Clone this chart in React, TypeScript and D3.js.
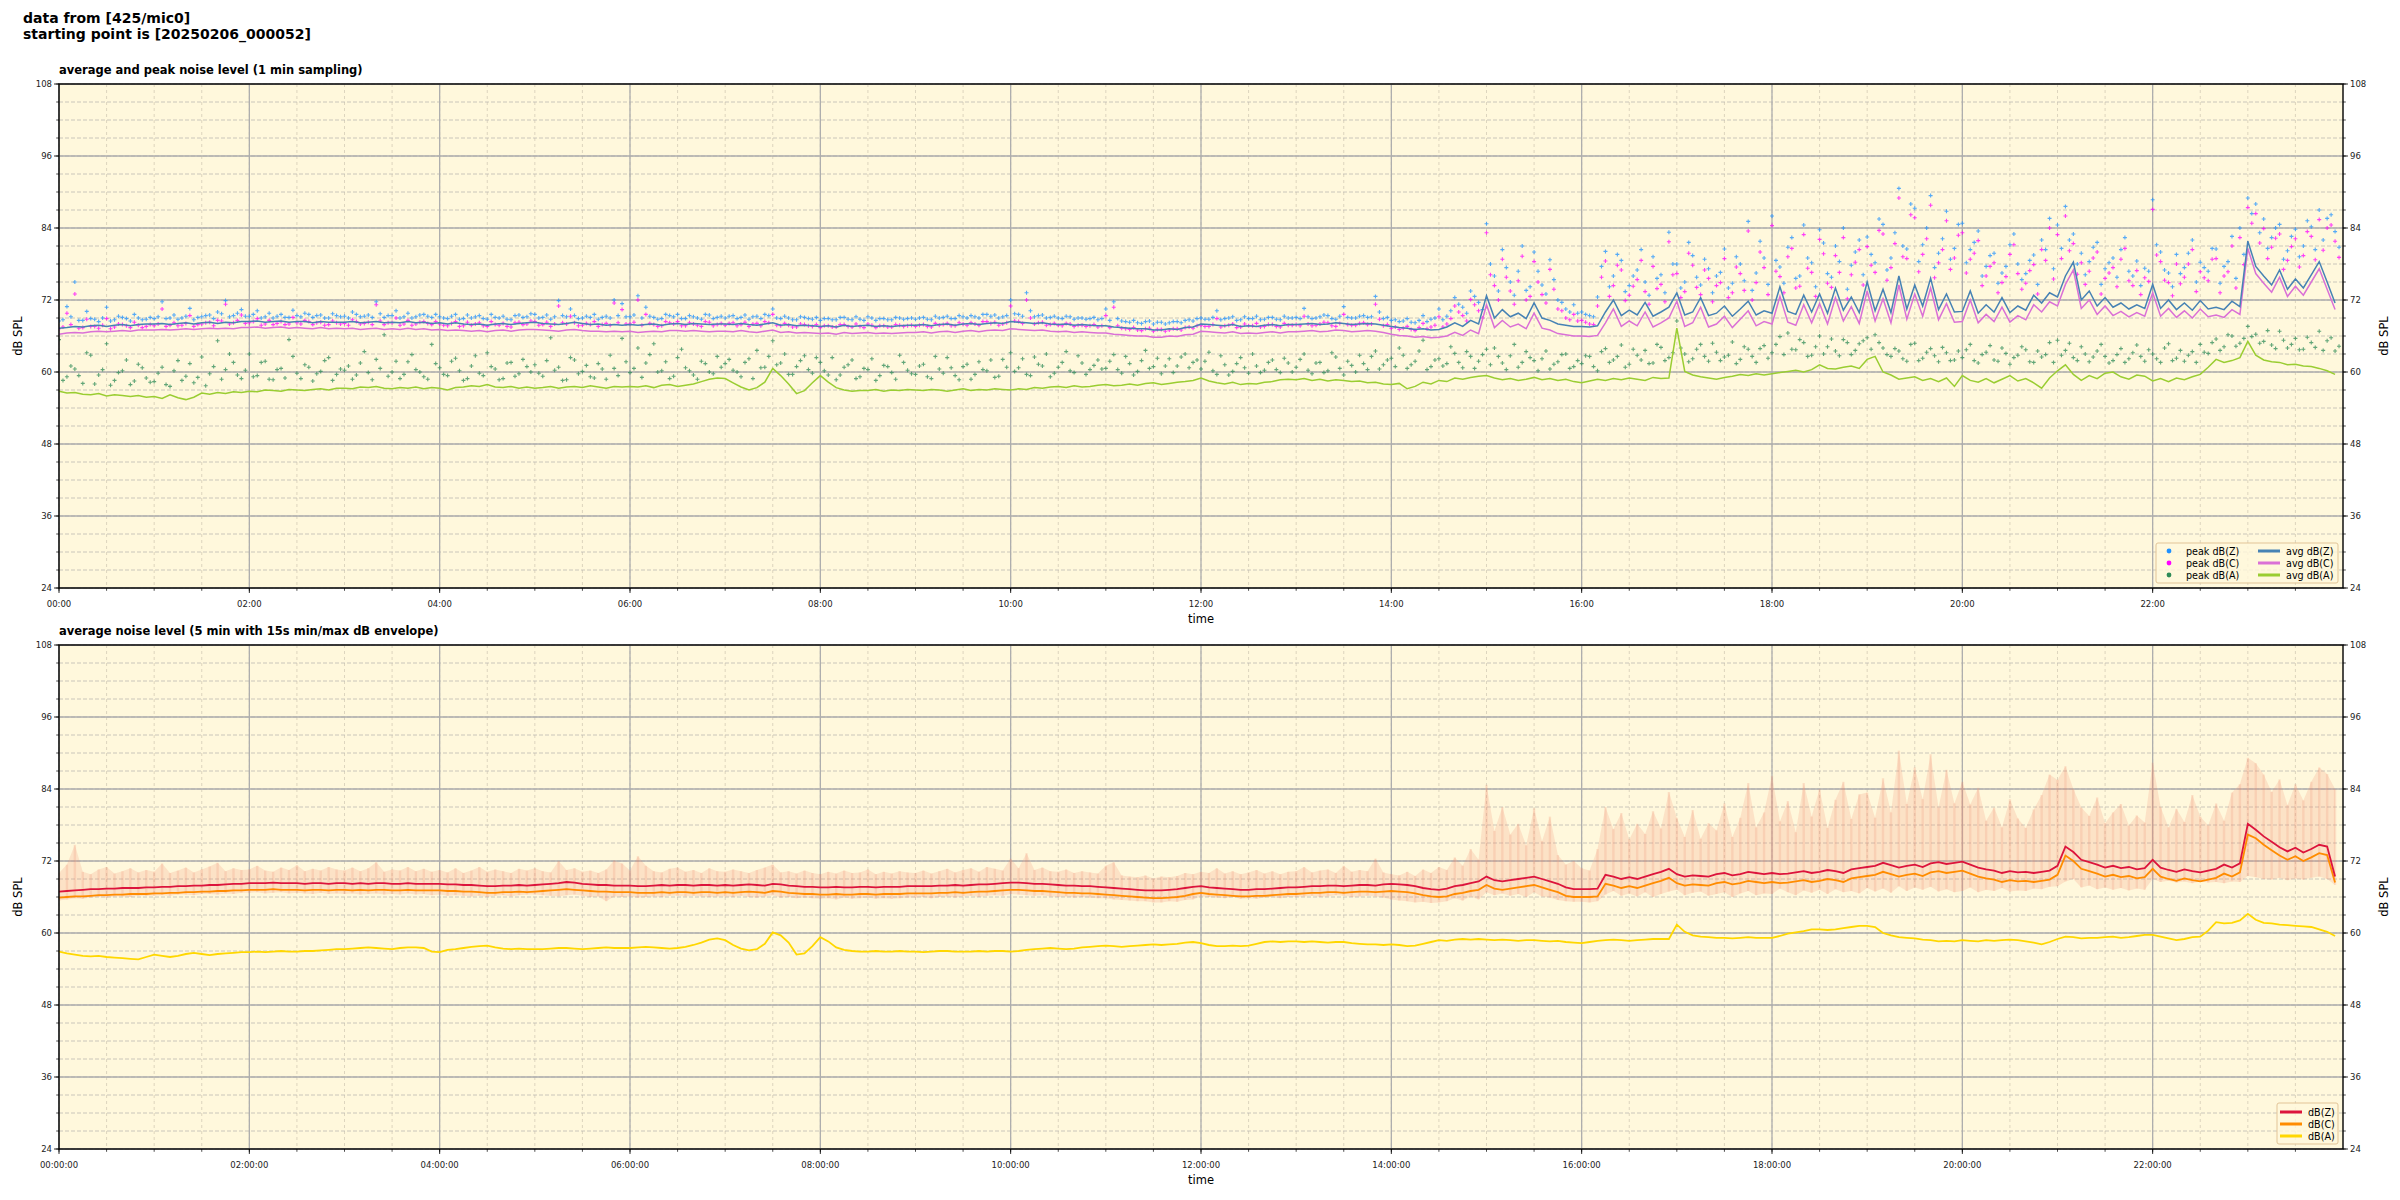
import React from "react";
import * as d3 from "d3";

// ---------- DATA (5-min samples, 00:00 .. 23:55) ----------
const avgZ = [
67.3,67.4,67.6,67.5,67.7,67.8,67.6,67.8,67.9,67.7,67.9,68.0,
68.0,68.1,67.9,68.1,68.2,68.0,68.2,68.3,68.1,68.3,68.2,68.4,
68.4,68.5,68.3,68.4,68.5,68.3,68.4,68.4,68.2,68.4,68.3,68.3,
68.3,68.4,68.2,68.3,68.4,68.2,68.3,68.2,68.4,68.2,68.3,68.1,
68.2,68.0,68.2,68.0,67.9,68.0,67.8,68.0,68.1,67.9,68.1,68.2,
68.3,68.1,68.0,67.9,68.1,68.3,68.1,67.9,68.0,67.8,67.9,67.8,
67.9,67.8,67.9,68.0,67.8,68.0,68.1,67.9,68.1,68.0,67.9,68.0,
68.0,67.9,68.1,67.9,67.8,68.0,68.2,67.8,67.9,67.7,67.8,67.7,
67.6,67.7,67.5,67.8,67.6,67.7,67.8,67.6,67.7,67.6,67.7,67.8,
67.8,67.9,67.7,67.9,68.0,67.8,68.0,68.1,67.9,68.1,68.2,68.1,
68.4,68.3,68.2,68.1,68.2,68.0,67.9,68.0,67.8,67.9,67.8,67.7,
67.7,67.5,67.4,67.3,67.2,67.2,67.0,67.0,67.2,67.1,67.4,67.5,
68.0,67.9,67.8,67.7,67.9,67.6,67.7,67.6,67.8,67.9,67.7,67.9,
67.9,68.0,68.1,67.9,68.0,68.2,68.1,67.9,68.0,68.1,68.0,67.8,
67.6,67.4,67.3,67.1,67.2,67.0,67.1,67.5,68.2,67.6,68.6,68.0,
72.7,69.0,70.4,69.2,69.8,68.9,71.5,69.0,68.6,68.0,67.8,67.6,
67.6,67.5,67.7,70.0,72.0,69.4,70.3,69.5,71.6,69.3,70.0,70.8,
73.2,69.5,70.0,72.4,69.4,69.8,71.0,69.3,70.5,71.8,69.5,70.2,
69.8,74.2,70.1,69.6,72.8,70.0,73.0,69.8,74.0,70.3,72.5,69.9,
75.0,70.2,73.8,69.9,76.0,70.5,74.5,71.0,75.6,70.4,73.0,70.0,
70.1,73.5,69.8,71.2,70.0,72.4,69.9,71.0,70.3,72.8,71.5,73.2,
72.5,76.0,78.3,72.0,73.5,71.0,72.4,70.8,71.5,70.5,71.2,70.6,
74.6,70.6,72.0,70.4,71.5,70.3,71.9,70.5,70.8,70.4,71.8,70.9,
81.8,77.6,76.0,74.5,77.0,73.8,75.5,74.0,76.2,78.4,75.0,71.5,
];
const avgC = [
66.3,66.5,66.6,66.5,66.7,66.8,66.7,66.8,66.9,66.8,67.0,67.0,
67.0,67.1,67.0,67.1,67.2,67.1,67.2,67.3,67.2,67.3,67.2,67.4,
67.4,67.5,67.3,67.4,67.5,67.3,67.4,67.3,67.2,67.4,67.2,67.3,
67.2,67.3,67.1,67.2,67.3,67.1,67.2,67.1,67.3,67.1,67.2,67.0,
67.1,66.9,67.0,66.9,66.8,66.9,66.7,66.9,67.0,66.8,67.0,67.1,
67.1,67.0,66.9,66.8,67.0,67.1,66.9,66.8,66.8,66.7,66.8,66.7,
66.8,66.6,66.7,66.8,66.7,66.9,66.9,66.8,66.9,66.8,66.7,66.8,
66.8,66.7,66.9,66.7,66.6,66.8,67.0,66.6,66.7,66.5,66.6,66.5,
66.4,66.5,66.3,66.6,66.4,66.5,66.6,66.4,66.5,66.4,66.5,66.6,
66.6,66.7,66.5,66.7,66.8,66.6,66.8,66.9,66.7,66.9,67.0,66.9,
67.2,67.1,67.0,66.9,67.0,66.8,66.7,66.8,66.6,66.7,66.6,66.5,
66.5,66.3,66.2,66.1,66.0,66.0,65.8,65.8,66.0,65.9,66.2,66.3,
66.8,66.7,66.6,66.5,66.7,66.4,66.5,66.4,66.6,66.7,66.5,66.7,
66.7,66.8,66.9,66.7,66.8,67.0,66.9,66.7,66.8,66.9,66.8,66.6,
66.3,66.1,66.0,65.8,65.9,65.7,65.8,66.0,66.6,66.1,67.0,66.4,
71.2,67.4,68.6,67.5,68.0,67.2,69.8,67.3,67.0,66.4,66.2,66.0,
66.0,65.9,66.1,68.2,70.5,67.6,68.5,67.7,70.0,67.5,68.2,69.0,
71.8,67.6,68.2,70.8,67.5,68.0,69.3,67.4,68.8,70.2,67.7,68.4,
68.0,72.6,68.3,67.8,71.2,68.2,71.4,68.0,72.4,68.5,70.9,68.1,
73.5,68.5,72.2,68.2,74.5,68.8,73.0,69.3,74.0,68.7,71.4,68.3,
68.4,72.0,68.2,69.6,68.4,70.8,68.3,69.4,68.7,71.2,70.0,71.7,
71.0,74.6,77.0,70.6,72.0,69.6,71.0,69.4,70.1,69.2,69.9,69.3,
73.2,69.3,70.6,69.1,70.2,69.0,70.5,69.2,69.5,69.1,70.4,69.6,
80.6,76.4,74.8,73.3,75.8,72.6,74.3,72.8,75.0,77.2,73.8,70.4,
];
const avgA = [
56.8,56.5,56.6,56.3,56.2,56.4,56.0,56.2,56.1,55.9,56.1,55.8,
55.9,55.6,56.2,55.7,55.4,55.8,56.5,56.3,56.6,56.4,56.7,56.6,
56.8,56.7,57.0,56.9,56.8,57.1,57.0,56.9,57.1,57.2,57.0,57.3,
57.3,57.2,57.5,57.4,57.6,57.3,57.2,57.4,57.3,57.5,57.2,57.4,
57.3,57.0,57.4,57.5,57.7,57.6,57.9,57.5,57.4,57.6,57.3,57.5,
57.3,57.4,57.6,57.3,57.5,57.6,57.4,57.7,57.5,57.3,57.6,57.5,
57.6,57.5,57.7,57.4,57.8,57.9,57.6,57.8,58.0,58.4,58.8,59.0,
58.9,58.2,57.5,57.0,57.4,58.3,60.6,59.4,58.0,56.4,56.9,58.2,
59.4,58.3,57.4,57.0,56.8,56.9,56.9,57.1,56.8,57.0,56.9,57.1,
57.0,56.9,57.1,57.0,56.8,57.0,57.2,56.9,57.1,57.0,57.2,57.1,
57.0,57.2,57.1,57.4,57.3,57.5,57.6,57.4,57.7,57.5,57.6,57.8,
57.9,57.7,57.8,58.0,57.8,58.1,58.2,57.9,58.1,58.3,58.4,58.6,
59.0,58.5,58.2,58.0,58.3,57.9,58.1,58.0,58.3,58.4,58.7,58.8,
58.7,58.9,58.6,58.8,58.5,58.7,58.6,58.4,58.5,58.2,58.3,58.0,
57.9,58.1,57.2,57.6,58.3,58.0,58.6,58.4,59.0,58.8,59.1,59.3,
59.4,59.0,58.7,58.9,58.6,58.8,59.1,58.7,58.9,58.6,58.8,58.4,
58.2,58.5,58.8,58.6,58.9,58.7,59.0,58.8,58.6,59.1,58.9,59.0,
67.3,60.1,59.5,59.2,59.0,58.8,59.1,59.3,59.6,59.4,59.7,59.5,
59.7,59.9,60.1,60.3,60.0,60.4,61.2,60.6,60.5,60.8,61.0,60.6,
62.1,62.6,60.0,59.5,58.8,59.0,59.2,58.6,58.9,58.4,59.0,57.6,
59.4,58.6,58.3,58.9,58.2,58.8,59.4,58.5,58.9,58.2,57.3,59.0,
60.2,61.2,59.6,58.6,59.4,58.9,59.8,60.0,59.2,58.8,59.5,59.3,
58.5,58.9,58.4,59.0,58.7,59.2,59.6,60.8,62.1,61.6,61.9,62.4,
65.1,62.8,62.0,61.7,61.6,61.2,61.3,61.0,60.9,60.6,60.2,59.6,
];
// peaks on the full 5-min marks
const peakZ = [
68.5,70.9,75.0,68.6,68.9,68.4,70.8,68.7,69.1,68.5,69.0,68.8,
68.9,71.7,69.0,68.8,69.3,68.7,69.2,69.5,70.0,71.9,69.4,70.4,
69.3,70.2,69.2,69.0,69.6,69.1,69.4,69.8,69.1,69.5,69.0,69.4,
69.3,70.0,69.2,69.5,71.7,69.1,69.4,69.0,69.8,69.2,69.6,69.1,
69.2,68.9,69.6,68.9,69.0,69.4,68.8,69.1,69.3,68.7,69.5,69.2,
69.6,69.1,68.8,71.9,69.2,69.4,69.0,69.1,68.8,69.3,72.0,71.4,
69.2,72.7,70.8,69.1,68.9,69.4,69.6,68.9,69.2,68.8,69.5,69.1,
69.0,69.4,69.1,68.8,69.3,69.6,70.5,68.9,69.0,68.7,69.1,68.8,
68.6,68.9,68.7,69.1,68.7,68.8,69.2,68.6,68.9,68.7,69.0,68.9,
68.8,69.1,68.7,69.0,69.3,68.9,69.2,69.4,69.0,69.6,69.5,69.2,
72.0,69.6,73.2,69.2,69.5,69.1,69.0,69.3,68.8,69.0,68.9,68.7,
70.5,71.7,68.5,68.3,68.2,68.4,68.0,68.3,68.2,68.4,68.6,68.5,
69.0,68.8,70.2,68.9,69.2,68.7,68.9,69.3,68.8,69.1,68.7,69.0,
69.1,70.6,68.9,69.2,69.4,68.8,70.9,69.0,69.3,69.1,72.6,68.9,
68.6,68.4,68.9,68.2,69.4,68.8,70.5,69.3,72.4,70.8,73.5,71.6,
84.7,76.0,80.4,75.0,76.8,73.6,80.0,74.5,78.7,72.0,70.5,71.2,
70.0,69.4,72.5,80.1,76.0,78.6,74.4,77.0,75.0,79.2,76.2,83.3,
78.0,75.0,79.4,74.5,77.2,76.0,80.5,74.8,78.0,85.1,76.5,79.0,
86.0,77.5,80.8,75.6,84.5,78.2,83.7,76.4,81.0,84.0,77.8,82.0,
82.5,78.2,84.6,79.0,90.6,80.5,87.3,81.2,89.4,79.8,86.8,80.6,
84.8,80.4,83.5,77.6,79.8,76.5,81.2,78.0,76.4,79.5,82.0,85.6,
84.5,87.6,83.0,79.8,78.4,81.6,77.2,79.0,80.4,76.8,78.5,77.3,
88.7,80.0,76.5,79.6,77.4,82.0,78.3,76.8,80.5,77.6,82.6,84.0,
89.0,88.0,85.5,82.4,84.6,80.2,83.8,81.0,84.2,87.0,85.6,83.4,
];
const peakC = [
67.2,69.8,73.0,67.4,67.6,67.3,68.9,67.5,67.9,67.4,67.8,67.6,
67.7,70.5,67.8,67.7,68.1,67.6,68.0,68.3,68.6,71.3,68.2,69.5,
68.2,68.9,68.0,67.9,68.4,68.0,68.2,68.6,67.9,68.3,67.9,68.2,
68.1,68.7,68.0,68.3,71.2,67.9,68.2,67.8,68.6,68.0,68.4,67.9,
68.0,67.7,68.4,67.7,67.8,68.2,67.6,67.9,68.1,67.5,68.3,68.0,
68.4,67.9,67.6,71.0,68.0,68.2,67.8,67.9,67.6,68.1,71.5,70.4,
68.0,72.0,69.6,67.9,67.7,68.2,68.4,67.7,68.0,67.6,68.3,67.9,
67.8,68.2,67.9,67.6,68.1,68.4,69.6,67.7,67.8,67.5,67.9,67.6,
67.4,67.7,67.5,67.9,67.5,67.6,68.0,67.4,67.7,67.5,67.8,67.7,
67.6,67.9,67.5,67.8,68.1,67.7,68.0,68.2,67.8,68.4,68.3,68.0,
71.0,68.4,72.0,68.0,68.3,67.9,67.8,68.1,67.6,67.8,67.7,67.5,
69.4,70.8,67.3,67.1,67.0,67.2,66.8,67.1,67.0,67.2,67.4,67.3,
67.8,67.6,68.9,67.7,68.0,67.5,67.7,68.1,67.6,67.9,67.5,67.8,
67.9,69.3,67.7,68.0,68.2,67.6,69.6,67.8,68.1,67.9,71.3,67.7,
67.3,67.1,67.6,66.9,68.1,67.5,69.2,68.0,71.0,69.4,72.1,70.2,
83.2,74.4,78.8,73.5,75.2,72.0,78.4,72.9,77.1,70.5,69.0,69.6,
68.6,68.0,71.0,78.5,74.4,77.0,72.8,75.4,73.4,77.6,74.6,81.7,
76.4,73.4,77.8,72.9,75.6,74.4,78.9,73.2,76.4,83.5,74.9,77.4,
84.4,75.9,79.2,74.0,82.9,76.6,82.1,74.8,79.4,82.4,76.2,80.4,
80.9,76.6,83.0,77.4,89.0,78.9,85.7,79.6,87.8,78.2,85.2,79.0,
83.2,78.8,81.9,76.0,78.2,74.9,79.6,76.4,74.8,77.9,80.4,84.0,
82.9,86.0,81.4,78.2,76.8,80.0,75.6,77.4,78.8,75.2,76.9,75.7,
87.1,78.4,74.9,78.0,75.8,80.4,76.7,75.2,78.9,76.0,81.0,82.4,
87.4,86.4,83.9,80.8,83.0,78.6,82.2,79.4,82.6,85.4,84.0,81.8,
];
const peakA = [
65.4,59.2,60.5,58.1,62.8,59.5,64.7,58.6,60.2,57.9,61.3,59.0,
58.4,60.8,57.6,61.9,59.3,58.2,62.5,59.7,65.2,60.4,61.6,58.9,
63.0,59.4,61.8,58.7,60.6,65.4,59.8,61.2,58.5,60.1,62.4,59.6,
60.3,58.8,61.5,59.9,62.1,66.2,60.0,58.9,61.7,60.4,59.2,64.6,
60.7,59.4,62.3,58.6,61.0,59.8,63.2,60.5,58.9,61.6,59.7,60.9,
61.2,59.3,65.7,60.8,58.7,62.0,60.1,59.2,61.4,58.8,60.6,65.6,
59.9,64.0,61.5,64.7,60.2,58.9,62.4,60.7,59.5,61.8,60.0,62.6,
61.4,60.3,59.2,62.2,63.6,60.8,65.2,61.5,59.6,60.9,62.7,59.8,
61.6,59.5,58.7,60.8,62.0,59.2,60.4,58.6,61.1,59.9,62.8,60.3,
59.6,61.3,58.9,60.5,62.4,59.4,60.9,58.8,61.7,60.2,59.1,62.1,
63.2,60.7,59.6,62.5,61.0,59.2,60.8,63.4,59.9,61.5,60.4,62.0,
60.6,62.9,59.8,61.4,60.1,63.6,60.9,59.7,62.2,61.0,63.0,61.6,
60.5,63.3,59.6,61.2,60.1,62.4,59.8,61.0,60.3,62.0,59.9,61.5,
60.8,63.0,59.7,61.6,60.2,62.5,59.5,61.1,62.8,60.4,63.5,61.2,
62.3,64.0,60.6,61.8,65.3,60.9,62.2,61.4,63.1,60.7,62.6,61.8,
63.8,64.0,61.5,62.7,60.8,63.4,61.9,62.2,60.5,61.7,63.0,60.9,
61.4,62.6,60.2,63.9,62.0,64.5,61.3,62.8,63.6,61.5,64.1,62.4,
68.5,63.0,62.2,64.6,61.8,63.3,62.5,65.0,62.1,63.8,61.6,64.4,
63.2,65.9,66.5,63.7,64.9,62.8,66.0,64.2,63.5,65.4,62.9,64.7,
65.7,66.2,64.0,62.6,63.5,61.8,64.8,62.3,63.9,61.7,63.2,62.0,
62.4,64.6,61.5,63.3,62.0,64.0,61.3,62.8,63.7,61.6,62.5,64.9,
65.3,63.6,62.4,64.2,61.7,63.5,62.6,61.9,63.9,62.2,64.5,61.8,
63.0,61.6,64.7,62.3,61.8,63.4,64.6,63.1,65.5,64.2,66.0,64.8,
67.6,66.3,65.1,64.5,66.8,64.0,65.6,63.8,64.9,66.8,65.2,63.5,
];
// peaks on the half marks (xx:x2:30 / xx:x7:30)
const peakZmid = [
68.7,69.2,68.6,70.1,68.8,69.0,68.5,69.3,68.9,69.6,68.7,69.1,
69.2,68.9,69.5,69.0,70.6,69.1,69.4,68.9,69.7,69.2,69.8,69.3,
69.6,69.0,69.8,69.3,69.1,70.3,69.2,69.6,69.4,69.0,69.7,69.2,
69.0,69.6,69.3,69.1,69.7,69.4,70.2,69.2,69.0,69.5,69.3,69.6,
69.0,69.3,68.8,69.5,69.2,68.9,69.6,69.0,68.8,69.4,69.1,69.7,
69.0,69.5,69.2,69.4,70.5,68.9,69.3,69.6,69.1,69.0,69.4,69.2,
69.5,69.0,69.3,68.8,69.6,69.2,68.9,69.4,69.0,69.6,68.9,69.3,
69.3,68.9,69.5,69.2,68.9,69.4,69.0,69.3,68.7,69.2,68.9,69.1,
68.9,68.7,69.1,68.8,69.2,68.6,69.0,68.9,68.7,69.1,68.8,69.0,
69.0,68.8,69.3,69.1,68.9,69.4,69.0,69.2,69.6,69.3,69.0,69.4,
69.7,69.3,70.2,69.4,69.0,69.3,68.9,69.2,69.0,68.8,69.1,68.9,
68.6,68.9,68.4,68.6,68.1,68.5,68.3,68.0,68.4,68.2,68.7,68.9,
68.8,69.1,68.7,69.0,68.6,69.2,68.9,68.7,69.1,68.8,69.3,69.0,
68.9,69.2,69.0,69.5,68.9,69.3,69.1,69.0,69.4,69.2,70.0,69.1,
68.7,68.5,68.3,68.6,68.4,69.0,68.7,70.2,71.3,69.8,72.6,70.4,
78.0,73.5,77.4,72.8,81.0,74.2,76.8,73.0,75.4,71.6,70.0,69.8,
69.6,69.2,77.6,74.2,79.6,73.4,76.0,80.4,72.8,75.6,73.2,78.0,
74.0,81.6,75.8,78.8,73.2,76.6,74.0,79.2,75.2,73.6,81.8,74.6,
78.6,74.8,82.4,76.0,79.0,74.2,81.5,75.8,78.4,73.8,80.0,76.2,
79.6,85.5,77.0,83.2,81.0,88.0,78.4,84.0,77.4,82.2,78.8,84.6,
78.2,81.6,76.0,79.4,74.8,77.6,83.0,75.4,78.6,74.6,80.4,77.2,
80.6,82.0,78.0,76.2,80.8,74.6,78.2,75.8,82.4,76.0,74.4,76.8,
81.2,77.0,74.2,76.4,79.8,75.0,77.4,80.6,74.8,78.4,75.6,79.6,
86.4,83.2,80.6,84.0,78.8,82.6,79.2,85.2,80.4,82.0,86.2,80.8,
];
const peakCmid = [
67.5,67.9,67.3,68.8,67.6,67.8,67.2,68.0,67.7,68.3,67.4,67.9,
68.0,67.6,68.2,67.8,69.4,67.9,68.2,67.7,68.5,68.0,68.6,68.1,
68.4,67.8,68.6,68.1,67.9,69.1,68.0,68.4,68.2,67.8,68.5,68.0,
67.8,68.4,68.1,67.9,68.5,68.2,69.0,68.0,67.8,68.3,68.1,68.4,
67.8,68.1,67.6,68.3,68.0,67.7,68.4,67.8,67.6,68.2,67.9,68.5,
67.8,68.3,68.0,68.2,69.3,67.7,68.1,68.4,67.9,67.8,68.2,68.0,
68.3,67.8,68.1,67.6,68.4,68.0,67.7,68.2,67.8,68.4,67.7,68.1,
68.1,67.7,68.3,68.0,67.7,68.2,67.8,68.1,67.5,68.0,67.7,67.9,
67.7,67.5,67.9,67.6,68.0,67.4,67.8,67.7,67.5,67.9,67.6,67.8,
67.8,67.6,68.1,67.9,67.7,68.2,67.8,68.0,68.4,68.1,67.8,68.2,
68.5,68.1,69.0,68.2,67.8,68.1,67.7,68.0,67.8,67.6,67.9,67.7,
67.4,67.7,67.2,67.4,66.9,67.3,67.1,66.8,67.2,67.0,67.5,67.7,
67.6,67.9,67.5,67.8,67.4,68.0,67.7,67.5,67.9,67.6,68.1,67.8,
67.7,68.0,67.8,68.3,67.7,68.1,67.9,67.8,68.2,68.0,68.8,67.9,
67.5,67.3,67.1,67.4,67.2,67.8,67.5,68.9,70.0,68.5,71.2,69.0,
76.2,72.0,75.8,71.3,79.3,72.6,75.0,71.5,73.8,70.2,68.7,68.5,
68.3,67.9,75.8,72.6,77.8,71.9,74.3,78.6,71.3,73.9,71.7,76.2,
72.4,79.8,74.1,77.0,71.7,74.9,72.4,77.5,73.6,72.0,80.0,72.9,
76.8,73.2,80.6,74.3,77.3,72.6,79.7,74.1,76.6,72.2,78.3,74.5,
77.8,83.6,75.3,81.4,79.2,86.2,76.7,82.2,75.7,80.4,77.1,82.8,
76.5,79.8,74.4,77.6,73.2,75.9,81.2,73.8,76.9,73.0,78.6,75.5,
78.9,80.2,76.3,74.6,79.0,73.0,76.5,74.2,80.6,74.4,72.9,75.1,
79.5,75.3,72.7,74.7,78.0,73.4,75.7,78.8,73.2,76.7,74.0,77.9,
84.8,81.5,78.9,82.3,77.1,80.9,77.5,83.4,78.7,80.3,84.5,79.1,
];
const peakAmid = [
58.6,61.0,59.4,63.2,58.0,60.4,57.8,59.9,62.0,58.5,60.7,58.3,
59.8,57.9,60.2,58.6,61.4,59.1,57.7,60.9,58.8,63.0,59.5,60.3,
59.2,61.6,58.8,60.4,59.0,62.6,58.9,60.8,59.7,61.9,58.6,60.5,
61.0,59.5,63.4,58.7,60.6,59.3,61.8,59.6,62.9,60.0,58.8,61.4,
59.6,61.8,60.2,58.9,62.7,59.4,60.9,58.7,61.5,59.3,62.1,60.0,
59.8,61.9,60.3,58.6,62.4,59.7,61.1,59.0,60.5,62.8,59.4,61.7,
60.6,59.1,62.9,60.0,61.7,59.3,63.8,60.2,58.8,61.4,59.7,60.8,
62.1,60.0,61.6,58.9,60.7,62.6,61.2,63.0,59.6,61.9,60.4,62.4,
60.2,62.4,59.5,61.2,58.9,60.6,62.2,59.4,60.9,58.8,61.6,59.7,
61.0,59.2,62.6,59.8,60.7,58.7,61.3,59.6,60.4,62.0,59.3,60.8,
60.1,62.2,59.4,61.3,63.0,59.8,61.6,60.2,62.7,59.6,61.1,60.5,
61.8,60.4,62.6,59.5,61.9,60.6,62.3,61.0,59.9,62.5,60.7,62.0,
61.8,60.2,62.7,59.5,61.4,60.7,63.0,59.9,61.6,60.4,62.3,60.0,
62.1,60.3,61.5,59.9,63.2,60.6,61.8,60.0,61.4,62.6,60.5,62.0,
60.9,62.8,61.2,63.5,60.4,62.0,61.0,64.2,61.6,63.4,60.6,62.9,
61.2,62.6,60.4,64.6,61.6,62.4,60.2,63.5,61.3,62.9,60.6,61.9,
62.7,60.9,63.4,61.6,62.6,60.8,63.8,62.0,61.4,64.6,61.9,63.2,
64.0,61.7,63.8,62.6,64.8,61.9,62.8,61.4,64.2,62.6,63.9,62.3,
64.6,62.9,63.8,65.4,62.6,64.2,63.0,65.5,62.7,64.9,63.6,65.2,
63.8,64.9,62.9,63.9,62.2,64.6,61.9,63.3,62.7,64.1,61.9,63.5,
63.7,61.9,62.9,64.4,61.8,63.1,62.4,64.2,61.7,63.5,62.9,61.6,
62.8,64.8,61.9,63.0,62.5,64.6,61.5,62.9,61.6,63.2,62.6,63.7,
62.2,64.0,61.9,63.6,62.8,61.6,63.3,64.9,63.6,66.2,64.3,65.6,
65.9,64.8,66.9,63.9,65.3,64.6,63.7,65.8,64.1,63.6,65.7,64.3,
];
// bottom panel: 5-min averages and 15s min/max envelope
const levelZ = [
66.9,67.0,67.1,67.2,67.3,67.3,67.4,67.4,67.5,67.5,67.5,67.6,
67.6,67.7,67.7,67.8,67.8,67.9,67.9,68.0,68.0,68.1,68.2,68.2,
68.3,68.3,68.3,68.4,68.3,68.3,68.3,68.2,68.3,68.3,68.2,68.3,
68.3,68.2,68.3,68.2,68.3,68.3,68.2,68.2,68.3,68.2,68.2,68.2,
68.2,68.1,68.1,68.0,68.0,67.9,67.8,67.8,67.9,67.9,68.0,67.9,
68.0,68.1,68.2,68.3,68.5,68.4,68.2,68.1,68.0,68.0,67.9,67.9,
67.9,67.8,67.8,67.9,68.0,67.9,68.0,68.0,67.9,68.0,68.0,67.9,
68.0,67.9,68.0,68.1,68.0,67.9,68.2,68.1,67.9,67.8,67.7,67.7,
67.6,67.6,67.7,67.6,67.6,67.7,67.7,67.6,67.7,67.7,67.7,67.8,
67.8,67.8,67.8,67.9,67.9,68.0,67.9,68.0,68.1,68.1,68.2,68.3,
68.4,68.4,68.3,68.2,68.2,68.1,68.0,67.9,67.9,67.8,67.8,67.7,
67.6,67.5,67.4,67.3,67.2,67.1,67.1,67.1,67.2,67.3,67.5,67.7,
67.8,67.6,67.5,67.4,67.3,67.2,67.2,67.3,67.3,67.4,67.5,67.6,
67.6,67.7,67.8,67.8,67.9,67.9,67.8,67.9,68.0,68.0,67.9,68.1,
68.2,68.1,68.0,67.8,67.5,67.3,67.2,67.4,67.8,68.0,68.3,68.6,
69.4,68.8,68.6,68.8,69.0,69.2,69.4,69.0,68.6,68.2,67.6,67.3,
67.3,67.3,67.4,69.7,69.4,69.0,69.3,69.0,69.4,69.8,70.2,70.7,
69.8,69.4,69.6,69.5,69.4,69.8,70.0,69.6,69.8,70.2,70.0,69.8,
70.0,69.8,69.9,70.1,70.3,70.0,70.2,70.5,70.3,70.0,70.6,70.8,
71.0,71.2,71.7,71.3,70.9,71.2,71.4,71.0,71.6,71.8,71.5,71.7,
71.9,71.4,70.9,70.6,70.4,70.0,70.3,70.1,70.2,70.0,70.2,70.4,
71.2,74.4,73.5,72.2,71.8,71.4,70.9,71.2,70.8,71.0,70.6,70.8,
72.2,70.9,70.5,70.2,70.6,70.3,70.1,70.4,70.7,71.4,70.9,71.6,
78.2,77.2,76.1,75.2,74.3,73.6,74.2,73.4,74.0,74.7,74.4,69.4,
];
const levelC = [
65.9,66.0,66.1,66.1,66.2,66.3,66.3,66.4,66.4,66.5,66.5,66.5,
66.6,66.6,66.7,66.7,66.8,66.8,66.9,66.9,67.0,67.0,67.1,67.1,
67.2,67.2,67.2,67.3,67.2,67.2,67.2,67.1,67.2,67.2,67.1,67.2,
67.2,67.1,67.2,67.1,67.2,67.2,67.1,67.1,67.2,67.1,67.1,67.1,
67.1,67.0,67.0,66.9,66.9,66.8,66.7,66.7,66.8,66.8,66.9,66.8,
66.9,67.0,67.1,67.2,67.3,67.2,67.1,67.0,66.9,66.9,66.8,66.8,
66.8,66.7,66.7,66.7,66.8,66.7,66.8,66.8,66.7,66.8,66.8,66.7,
66.8,66.7,66.8,66.9,66.8,66.7,67.0,66.9,66.7,66.6,66.5,66.5,
66.4,66.4,66.5,66.4,66.4,66.5,66.5,66.4,66.5,66.5,66.5,66.6,
66.6,66.6,66.6,66.7,66.7,66.8,66.7,66.8,66.9,66.9,67.0,67.1,
67.2,67.2,67.1,67.0,67.0,66.9,66.8,66.7,66.7,66.6,66.6,66.5,
66.4,66.3,66.2,66.1,66.0,65.9,65.8,65.8,65.9,66.0,66.2,66.5,
66.7,66.5,66.4,66.3,66.2,66.1,66.1,66.2,66.2,66.3,66.4,66.5,
66.5,66.6,66.7,66.7,66.8,66.8,66.7,66.8,66.9,66.9,66.8,66.9,
67.0,66.9,66.8,66.6,66.3,66.1,66.0,66.1,66.5,66.7,67.0,67.2,
68.0,67.4,67.2,67.4,67.6,67.8,68.0,67.6,67.2,66.8,66.2,66.0,
66.0,66.0,66.1,68.2,67.9,67.5,67.8,67.5,67.9,68.3,68.7,69.2,
68.3,67.9,68.1,68.0,67.9,68.3,68.5,68.1,68.3,68.7,68.5,68.3,
68.5,68.3,68.4,68.6,68.8,68.5,68.7,69.0,68.8,68.5,69.1,69.3,
69.5,69.7,70.2,69.8,69.4,69.7,69.9,69.5,70.1,70.3,70.0,70.2,
70.4,69.9,69.4,69.1,68.9,68.5,68.8,68.6,68.7,68.5,68.7,68.9,
69.7,72.9,72.0,70.7,70.3,69.9,69.4,69.7,69.3,69.5,69.1,69.3,
70.7,69.4,69.0,68.7,69.1,68.8,68.6,68.9,69.2,69.9,69.4,70.1,
76.4,75.8,74.7,73.8,72.9,72.2,72.8,72.0,72.6,73.3,73.0,68.4,
];
const levelA = [
56.9,56.6,56.4,56.2,56.1,56.2,56.0,55.9,55.8,55.7,55.6,56.0,
56.4,56.2,56.0,56.2,56.5,56.7,56.5,56.3,56.5,56.6,56.7,56.8,
56.8,56.9,56.8,56.9,57.0,56.9,56.9,57.0,57.0,57.1,57.2,57.3,
57.3,57.4,57.5,57.6,57.5,57.4,57.3,57.5,57.6,57.6,57.5,56.9,
56.8,57.2,57.3,57.5,57.7,57.8,57.9,57.6,57.4,57.3,57.4,57.3,
57.3,57.3,57.4,57.5,57.5,57.4,57.3,57.4,57.5,57.6,57.5,57.5,
57.5,57.6,57.7,57.6,57.5,57.4,57.5,57.7,58.0,58.4,58.9,59.1,
58.8,58.0,57.4,57.1,57.3,58.2,60.1,59.6,58.4,56.4,56.6,57.8,
59.3,58.6,57.6,57.2,57.0,56.9,56.9,57.0,56.9,56.9,57.0,56.9,
56.9,56.8,56.9,57.0,57.0,56.9,56.9,56.9,57.0,56.9,57.0,57.0,
56.9,57.0,57.2,57.3,57.4,57.5,57.4,57.3,57.4,57.6,57.7,57.8,
57.9,57.8,57.7,57.8,57.9,58.0,58.1,58.0,58.1,58.2,58.4,58.5,
58.3,58.0,57.8,57.8,57.9,57.8,57.9,58.2,58.5,58.6,58.5,58.6,
58.6,58.5,58.6,58.5,58.4,58.5,58.5,58.3,58.2,58.1,58.1,58.0,
58.1,58.0,57.8,57.9,58.2,58.5,58.8,58.7,58.9,59.0,58.9,59.0,
58.9,58.8,58.9,58.8,58.7,58.8,58.8,58.7,58.6,58.7,58.5,58.4,
58.3,58.5,58.7,58.8,58.9,58.8,58.7,58.8,58.9,59.0,59.0,59.0,
61.4,60.2,59.6,59.4,59.3,59.2,59.2,59.1,59.2,59.3,59.2,59.2,
59.2,59.5,59.9,60.1,60.3,60.6,60.6,60.5,60.6,60.8,61.0,61.2,
61.2,61.0,60.0,59.6,59.3,59.2,59.1,58.9,58.8,58.6,58.7,58.6,
58.8,58.7,58.6,58.8,58.7,58.8,58.9,58.8,58.6,58.4,58.1,58.5,
59.0,59.4,59.3,59.1,59.2,59.2,59.3,59.4,59.2,59.3,59.5,59.7,
59.7,59.4,59.1,58.8,59.0,59.3,59.4,60.4,61.8,61.6,61.7,62.1,
63.2,62.2,61.7,61.6,61.4,61.3,61.2,61.1,61.0,60.6,60.2,59.5,
];
const envMax = [
70.0,71.4,74.7,70.2,69.8,70.6,71.0,69.9,70.3,70.8,70.1,70.5,
70.2,71.6,70.0,70.4,70.9,70.1,70.6,71.1,71.7,70.3,70.8,70.5,
70.6,71.2,70.4,70.2,70.9,70.5,71.3,70.3,70.7,70.4,71.0,70.6,
70.4,70.9,70.3,70.8,71.8,70.2,70.6,70.4,71.0,70.3,70.7,70.2,
70.5,70.1,70.8,70.0,70.4,71.0,70.2,70.6,70.3,70.0,70.7,70.4,
70.8,70.3,70.1,72.0,70.5,70.8,70.2,70.4,70.0,70.6,72.1,71.6,
70.4,72.8,71.2,70.3,70.1,70.7,70.9,70.2,70.5,70.0,70.8,70.3,
70.2,70.6,70.3,70.0,70.5,70.9,71.4,70.1,70.3,69.9,70.4,70.0,
69.8,70.2,69.9,70.4,70.0,70.1,70.6,69.8,70.2,69.9,70.3,70.1,
70.0,70.4,69.9,70.3,70.7,70.1,70.5,70.8,70.2,71.0,70.7,70.4,
72.4,70.8,73.3,70.5,70.9,70.3,70.2,70.6,70.0,70.3,70.1,69.9,
71.2,71.8,69.6,69.4,69.3,69.6,69.1,69.4,69.3,69.5,70.0,69.8,
70.2,70.0,70.8,69.9,70.3,69.8,70.1,70.5,69.9,70.3,69.8,70.2,
70.3,71.0,70.1,70.4,70.6,70.0,71.2,70.2,70.5,70.3,72.4,70.1,
69.8,69.6,70.2,69.5,70.6,70.0,71.0,70.5,72.6,71.2,74.0,72.2,
84.7,77.0,81.0,76.4,78.2,74.6,80.8,75.3,79.4,73.0,71.4,72.0,
70.8,70.4,74.0,81.0,77.3,80.0,75.6,78.2,76.5,80.3,77.4,83.5,
79.2,76.0,80.5,75.7,78.3,77.1,81.6,76.0,79.2,85.0,77.6,80.1,
86.2,78.6,82.0,76.8,85.0,79.4,84.0,77.5,82.2,85.2,79.0,83.1,
83.4,79.2,85.8,80.1,90.4,81.5,87.6,82.3,89.8,80.9,87.2,81.6,
85.2,81.4,84.2,78.7,80.9,77.6,82.3,79.1,77.5,80.6,83.0,86.4,
85.5,87.8,84.0,80.9,79.5,82.6,78.3,80.1,81.5,77.9,79.6,78.4,
88.4,81.0,77.6,80.7,78.5,83.0,79.4,77.9,81.6,78.7,83.4,84.8,
89.2,88.3,86.4,83.5,85.6,81.3,84.8,82.1,85.2,87.6,86.5,84.0,
];
const envMin = [
65.4,65.6,65.8,65.7,65.9,66.0,65.9,66.1,66.1,66.0,66.2,66.2,
66.2,66.3,66.2,66.4,66.4,66.3,66.5,66.5,66.4,66.6,66.5,66.7,
66.7,66.8,66.6,66.7,66.8,66.6,66.7,66.6,66.5,66.7,66.5,66.6,
66.5,66.6,66.4,66.5,66.6,66.4,66.5,66.4,66.6,66.4,66.5,66.3,
66.4,66.2,66.3,66.2,66.1,66.2,66.0,66.2,66.3,66.1,66.3,66.4,
66.4,66.3,66.2,66.1,66.3,66.4,66.2,66.0,66.1,65.3,66.1,66.0,
66.1,65.9,66.0,66.1,66.0,66.2,66.2,66.1,66.2,66.1,66.0,66.1,
66.1,66.0,66.2,66.0,65.9,66.1,66.3,65.9,66.0,65.8,65.9,65.8,
65.7,65.8,65.6,65.9,65.7,65.8,65.9,65.7,65.8,65.7,65.8,65.9,
65.9,66.0,65.8,66.0,66.1,65.9,66.1,66.2,66.0,66.2,66.3,66.2,
66.5,66.4,66.3,66.2,66.3,66.1,66.0,66.1,65.9,66.0,65.9,65.8,
65.8,65.6,65.5,65.4,65.3,65.3,65.1,65.1,65.3,65.2,65.5,65.6,
66.1,66.0,65.9,65.8,66.0,65.7,65.8,65.7,65.9,66.0,65.8,66.0,
66.0,66.1,66.2,66.0,66.1,66.3,66.2,66.0,66.1,66.2,66.1,65.9,
65.6,65.4,65.3,65.1,65.2,65.0,65.1,65.3,65.8,65.4,66.1,65.6,
66.8,66.3,66.6,66.2,66.5,66.0,66.8,66.1,65.9,65.5,65.3,65.2,
65.2,65.1,65.3,66.4,67.0,66.2,66.6,66.1,66.8,66.0,66.5,66.9,
67.2,66.3,66.7,66.9,66.2,66.5,66.8,66.0,66.6,67.0,66.3,66.6,
66.5,67.4,66.8,66.3,67.1,66.7,67.2,66.5,67.3,66.8,67.0,66.6,
67.5,66.9,67.4,66.7,67.8,67.0,67.6,67.2,67.7,66.9,67.3,66.8,
67.0,67.6,66.8,67.2,67.0,67.5,66.9,67.1,67.0,67.4,67.3,67.7,
67.8,68.6,69.0,67.6,67.9,67.3,67.6,67.2,67.5,67.1,67.4,67.2,
69.0,68.5,68.7,68.4,68.6,68.3,68.6,68.4,68.5,68.3,68.6,68.5,
69.5,69.3,69.0,68.9,69.2,68.8,69.1,68.9,69.2,69.4,69.0,68.0,
];
const yTickValues = [24, 36, 48, 60, 72, 84, 96, 108];
const topLegend = ["peak dB(Z)", "peak dB(C)", "peak dB(A)", "avg dB(Z)", "avg dB(C)", "avg dB(A)"];
const botLegend = ["dB(Z)", "dB(C)", "dB(A)"];

// ---------- LAYOUT ----------
const FONT = "DejaVu Sans, Verdana, sans-serif";
const X0 = 59, X1 = 2343;
const BG = "#fff8dc";
const dayStart = new Date(2025, 1, 6, 0, 0, 0);
const dayEnd = new Date(2025, 1, 7, 0, 0, 0);
const timeAt = (i: number) => d3.timeMinute.offset(dayStart, i * 5);
const timeMid = (i: number) => d3.timeSecond.offset(dayStart, i * 300 + 150);

const x = d3.scaleTime().domain([dayStart, dayEnd]).range([X0, X1]);
const majorX = d3.timeHour.every(2)!.range(dayStart, dayEnd);
const minorX = d3.timeMinute.every(30)!.range(dayStart, dayEnd);
const minorY = d3.range(24, 109, 3);

function Frame({ y0, y1, title }: { y0: number; y1: number; title: string }) {
  const y = d3.scaleLinear().domain([24, 108]).range([y1, y0]);
  return (
    <g>
      <rect x={X0} y={y0} width={X1 - X0} height={y1 - y0} fill={BG} />
      {minorX.map((d, i) => (
        <line key={"mx" + i} x1={x(d)} x2={x(d)} y1={y0} y2={y1} stroke="#d4cbb6" strokeWidth={0.8} strokeDasharray="3,3" />
      ))}
      {minorY.map((v, i) => (
        <line key={"my" + i} x1={X0} x2={X1} y1={y(v)} y2={y(v)} stroke="#bcb9b1" strokeWidth={0.8} strokeDasharray="4,2" />
      ))}
      {majorX.map((d, i) => (
        <line key={"Mx" + i} x1={x(d)} x2={x(d)} y1={y0} y2={y1} stroke="#adadad" strokeWidth={1.3} />
      ))}
      {yTickValues.map((v, i) => (
        <line key={"My" + i} x1={X0} x2={X1} y1={y(v)} y2={y(v)} stroke="#adadad" strokeWidth={1.6} />
      ))}
      <text x={X0} y={y0 - 10} fontFamily={FONT} fontWeight="bold" fontSize={11.5} fill="#000">{title}</text>
    </g>
  );
}

function Axes({ y0, y1, fmt }: { y0: number; y1: number; fmt: (d: Date) => string }) {
  const y = d3.scaleLinear().domain([24, 108]).range([y1, y0]);
  const mid = (y0 + y1) / 2;
  return (
    <g fontFamily={FONT} fill="#222">
      <rect x={X0} y={y0} width={X1 - X0} height={y1 - y0} fill="none" stroke="#000" strokeWidth={1.4} />
      {minorY.map((v, i) => (
        <g key={"ty" + i}>
          <line x1={X0} x2={X0 - 2.8} y1={y(v)} y2={y(v)} stroke="#000" strokeWidth={0.7} />
          <line x1={X1} x2={X1 + 2.8} y1={y(v)} y2={y(v)} stroke="#000" strokeWidth={0.7} />
        </g>
      ))}
      {yTickValues.map((v, i) => (
        <g key={"tY" + i}>
          <line x1={X0} x2={X0 - 4.9} y1={y(v)} y2={y(v)} stroke="#000" strokeWidth={0.9} />
          <line x1={X1} x2={X1 + 4.9} y1={y(v)} y2={y(v)} stroke="#000" strokeWidth={0.9} />
          <text x={X0 - 7} y={y(v) + 3} textAnchor="end" fontSize={8.5}>{v}</text>
          <text x={X1 + 7} y={y(v) + 3} textAnchor="start" fontSize={8.5}>{v}</text>
        </g>
      ))}
      {minorX.map((d, i) => (
        <line key={"tx" + i} x1={x(d)} x2={x(d)} y1={y1} y2={y1 + 2.8} stroke="#000" strokeWidth={0.7} />
      ))}
      {majorX.map((d, i) => (
        <g key={"tX" + i}>
          <line x1={x(d)} x2={x(d)} y1={y1} y2={y1 + 4.9} stroke="#000" strokeWidth={0.9} />
          <text x={x(d)} y={y1 + 19} textAnchor="middle" fontSize={8.5}>{fmt(d)}</text>
        </g>
      ))}
      <text x={(X0 + X1) / 2} y={y1 + 35} textAnchor="middle" fontSize={11.5} fill="#000">time</text>
      <text transform={`translate(22,${mid}) rotate(-90)`} textAnchor="middle" fontSize={11.5} fill="#000">dB SPL</text>
      <text transform={`translate(${X1 + 45},${mid}) rotate(-90)`} textAnchor="middle" fontSize={11.5} fill="#000">dB SPL</text>
    </g>
  );
}

function TopPanel() {
  const y0 = 84, y1 = 588;
  const y = d3.scaleLinear().domain([24, 108]).range([y1, y0]);
  const line = d3.line<number>().x((_, i) => x(timeAt(i))).y((v) => y(v));
  const plus = (arr: number[], at: (i: number) => Date, color: string, key: string) =>
    arr.map((v, i) => {
      const cx = x(at(i)), cy = y(v);
      return <path key={key + i} d={`M${cx - 2},${cy}H${cx + 2}M${cx},${cy - 2}V${cy + 2}`} stroke={color} strokeWidth={1.1} strokeOpacity={0.75} />;
    });
  const fmt = d3.timeFormat("%H:%M");
  const lx = 2156, ly = 543;
  const dotColors = ["#1e90ff", "#ff00ff", "#2e8b57"];
  const lineColors = ["#4682b4", "#da70d6", "#9acd32"];
  return (
    <g>
      <Frame y0={y0} y1={y1} title="average and peak noise level (1 min sampling)" />
      <g clipPath="url(#clipTop)">
        {plus(peakA, timeAt, "#2e8b57", "pa")}
        {plus(peakAmid, timeMid, "#2e8b57", "pam")}
        {plus(peakZ, timeAt, "#1e90ff", "pz")}
        {plus(peakZmid, timeMid, "#1e90ff", "pzm")}
        {plus(peakC, timeAt, "#ff00ff", "pc")}
        {plus(peakCmid, timeMid, "#ff00ff", "pcm")}
        <path d={line(avgA)!} fill="none" stroke="#9acd32" strokeWidth={1.5} />
        <path d={line(avgC)!} fill="none" stroke="#da70d6" strokeWidth={1.5} />
        <path d={line(avgZ)!} fill="none" stroke="#4682b4" strokeWidth={1.5} />
      </g>
      <Axes y0={y0} y1={y1} fmt={fmt} />
      <g fontFamily={FONT} fontSize={9.6}>
        <rect x={lx} y={ly} width={182} height={40} rx={2} fill={BG} fillOpacity={0.8} stroke="#e2c497" strokeWidth={1} />
        {topLegend.slice(0, 3).map((t, i) => (
          <g key={"l1" + i}>
            <circle cx={lx + 13} cy={ly + 8 + i * 12} r={2.4} fill={dotColors[i]} />
            <text x={lx + 30} y={ly + 11.5 + i * 12} fill="#000">{t}</text>
          </g>
        ))}
        {topLegend.slice(3).map((t, i) => (
          <g key={"l2" + i}>
            <line x1={lx + 102} x2={lx + 124} y1={ly + 8 + i * 12} y2={ly + 8 + i * 12} stroke={lineColors[i]} strokeWidth={3} />
            <text x={lx + 130} y={ly + 11.5 + i * 12} fill="#000">{t}</text>
          </g>
        ))}
      </g>
    </g>
  );
}

function BottomPanel() {
  const y0 = 645, y1 = 1149;
  const y = d3.scaleLinear().domain([24, 108]).range([y1, y0]);
  const line = d3.line<number>().x((_, i) => x(timeAt(i))).y((v) => y(v));
  const area = d3.area<number>().x((_, i) => x(timeAt(i))).y0((_, i) => y(envMin[i])).y1((v) => y(v));
  const fmt = d3.timeFormat("%H:%M:%S");
  const lx = 2277, ly = 1103;
  const colors = ["#dc143c", "#ff8c00", "#ffd700"];
  return (
    <g>
      <Frame y0={y0} y1={y1} title="average noise level (5 min with 15s min/max dB envelope)" />
      <g clipPath="url(#clipBot)">
        <path d={area(envMax)!} fill="#f08a70" fillOpacity={0.2} />
        {envMax.map((v, i) => (
          <rect key={"eb" + i} x={x(timeAt(i)) - 1.2} width={2.4} y={y(v)} height={y(envMin[i]) - y(v)} fill="#f08a70" fillOpacity={0.2} />
        ))}
        <path d={line(levelA)!} fill="none" stroke="#ffd700" strokeWidth={1.8} />
        <path d={line(levelC)!} fill="none" stroke="#ff8c00" strokeWidth={1.8} />
        <path d={line(levelZ)!} fill="none" stroke="#dc143c" strokeWidth={1.8} />
      </g>
      <Axes y0={y0} y1={y1} fmt={fmt} />
      <g fontFamily={FONT} fontSize={9.6}>
        <rect x={lx} y={ly} width={61} height={41} rx={2} fill={BG} fillOpacity={0.8} stroke="#e2c497" strokeWidth={1} />
        {botLegend.map((t, i) => (
          <g key={"lb" + i}>
            <line x1={lx + 3} x2={lx + 25} y1={ly + 9 + i * 12} y2={ly + 9 + i * 12} stroke={colors[i]} strokeWidth={3} />
            <text x={lx + 31} y={ly + 12.5 + i * 12} fill="#000">{t}</text>
          </g>
        ))}
      </g>
    </g>
  );
}

export default function App() {
  return (
    <svg width={2400} height={1200} style={{ position: "absolute", left: 0, top: 0, background: "#fff" }}>
      <defs>
        <clipPath id="clipTop"><rect x={X0} y={84} width={X1 - X0} height={504} /></clipPath>
        <clipPath id="clipBot"><rect x={X0} y={645} width={X1 - X0} height={504} /></clipPath>
      </defs>
      <rect x={0} y={0} width={2400} height={1200} fill="#fff" />
      <text x={23} y={23} fontFamily={FONT} fontWeight="bold" fontSize={14} fill="#000">data from [425/mic0]</text>
      <text x={23} y={39} fontFamily={FONT} fontWeight="bold" fontSize={14} fill="#000">starting point is [20250206_000052]</text>
      <TopPanel />
      <BottomPanel />
    </svg>
  );
}
